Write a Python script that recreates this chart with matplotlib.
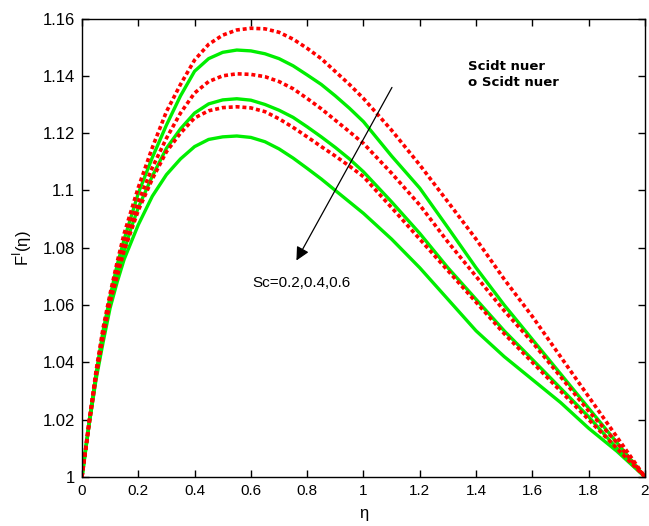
import matplotlib
matplotlib.use('Agg')
import matplotlib.pyplot as plt

eta = [0, 0.025, 0.05, 0.075, 0.1, 0.125, 0.15, 0.175, 0.2, 0.25, 0.3, 0.35, 0.4, 0.45,
       0.5, 0.55, 0.6, 0.65, 0.7, 0.75, 0.8, 0.85, 0.9, 0.95, 1.0,
       1.1, 1.2, 1.3, 1.4, 1.5, 1.6, 1.7, 1.8, 1.9, 2.0]

# red dotted curves
red_1 = [1, 1.019, 1.037, 1.052, 1.064, 1.075, 1.085, 1.093, 1.101, 1.115, 1.1275, 1.137, 1.1455, 1.151,
         1.1542, 1.1560, 1.1566, 1.1564, 1.1552, 1.1528, 1.1496, 1.146, 1.1415, 1.137, 1.1321,
         1.121, 1.1089, 1.096, 1.083, 1.069, 1.056, 1.042, 1.028, 1.014, 1.0]
red_2 = [1, 1.019, 1.036, 1.050, 1.062, 1.072, 1.081, 1.089, 1.096, 1.108, 1.1182, 1.127, 1.134, 1.138,
         1.140, 1.1407, 1.1405, 1.1397, 1.138, 1.1355, 1.1321, 1.1285, 1.1245, 1.1205, 1.1164,
         1.106, 1.0949, 1.082, 1.070, 1.058, 1.047, 1.035, 1.023, 1.012, 1.0]
red_3 = [1, 1.018, 1.035, 1.049, 1.061, 1.070, 1.079, 1.086, 1.093, 1.104, 1.1135, 1.120, 1.1253, 1.1278,
         1.1289, 1.1292, 1.1288, 1.1275, 1.125, 1.122, 1.1187, 1.1153, 1.112, 1.1085, 1.1048,
         1.094, 1.083, 1.072, 1.061, 1.050, 1.040, 1.030, 1.020, 1.010, 1.0]

# green solid curves
green_1 = [1, 1.019, 1.036, 1.051, 1.063, 1.074, 1.083, 1.091, 1.099, 1.1115, 1.1228, 1.133, 1.1416, 1.146,
           1.1482, 1.1490, 1.1487, 1.1477, 1.1460, 1.1435, 1.1403, 1.137, 1.133, 1.1287, 1.124,
           1.112, 1.1008, 1.087, 1.073, 1.060, 1.048, 1.036, 1.024, 1.012, 1.0]
green_2 = [1, 1.018, 1.035, 1.049, 1.061, 1.071, 1.079, 1.087, 1.094, 1.105, 1.1147, 1.1215, 1.127, 1.1302,
           1.1316, 1.132, 1.1315, 1.130, 1.128, 1.1255, 1.1222, 1.1187, 1.115, 1.111, 1.1065,
           1.096, 1.085, 1.073, 1.062, 1.051, 1.041, 1.031, 1.021, 1.010, 1.0]
green_3 = [1, 1.018, 1.034, 1.047, 1.059, 1.068, 1.076, 1.082, 1.088, 1.098, 1.1055, 1.111, 1.1153, 1.1178,
           1.1187, 1.119, 1.1185, 1.117, 1.1145, 1.1113, 1.1077, 1.104, 1.100, 1.096, 1.092,
           1.083, 1.073, 1.062, 1.051, 1.042, 1.034, 1.026, 1.017, 1.009, 1.0]

xticks = [0, 0.2, 0.4, 0.6, 0.8, 1, 1.2, 1.4, 1.6, 1.8, 2]
xticklabels = ['0', '0.2', '0.4', '0.6', '0.8', '1', '1.2', '1.4', '1.6', '1.8', '2']
yticks = [1, 1.02, 1.04, 1.06, 1.08, 1.1, 1.12, 1.14, 1.16]
yticklabels = ['1', '1.02', '1.04', '1.06', '1.08', '1.1', '1.12', '1.14', '1.16']

plt.rcParams['font.family'] = ['Liberation Sans', 'DejaVu Sans']

fig = plt.figure(figsize=(6.49, 5.26), dpi=100)
ax = fig.add_axes([0.1263, 0.0932, 0.8675, 0.8716])

for g in [green_1, green_2, green_3]:
    ax.plot(eta, g, color='#00ee00', lw=2.4, solid_joinstyle='round')
for r in [red_1, red_2, red_3]:
    ax.plot(eta, r, color='#ff0000', lw=2.6, linestyle=(0, (1.1, 0.8)))

ax.set_xlim(0, 2)
ax.set_ylim(1, 1.16)
ax.set_xticks(xticks)
ax.set_xticklabels(xticklabels)
ax.set_yticks(yticks)
ax.set_yticklabels(yticklabels)
ax.tick_params(direction='in', top=True, right=True, length=5, width=1, labelsize=11, pad=5)
ax.tick_params(axis='y', labelsize=12)
for sp in ax.spines.values():
    sp.set_linewidth(1.0)

ax.set_xlabel('η', fontsize=12, labelpad=6)
ax.set_ylabel(r'F$^{\mathrm{I}}$(η)', fontsize=12, labelpad=6)

# arrow and annotations
ax.annotate('', xy=(0.757, 1.0747), xytext=(1.106, 1.1368),
            arrowprops=dict(arrowstyle='-|>', color='black', lw=0.9, mutation_scale=20))
ax.text(0.607, 1.0677, 'Sc=0.2,0.4,0.6', fontsize=11, va='center', ha='left')
ax.text(1.371, 1.1431, 'Scidt nuer', fontsize=9.5, fontweight='bold', family='DejaVu Sans',
        va='center', ha='left')
ax.text(1.371, 1.1375, 'o Scidt nuer', fontsize=9.5, fontweight='bold', family='DejaVu Sans',
        va='center', ha='left')

fig.savefig('out.png', dpi=100)
